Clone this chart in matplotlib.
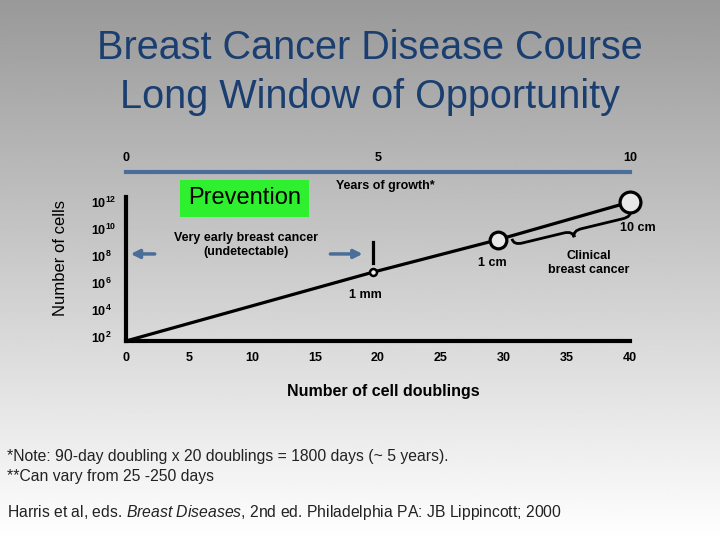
import numpy as np
import matplotlib
matplotlib.use("Agg")
import matplotlib.pyplot as plt
from matplotlib.patches import Rectangle, PathPatch
from matplotlib.path import Path

plt.rcParams['font.family'] = ['Liberation Sans', 'DejaVu Sans']
plt.rcParams['mathtext.fontset'] = 'custom'
plt.rcParams['mathtext.rm'] = 'Liberation Sans'
plt.rcParams['mathtext.bf'] = 'Liberation Sans:bold'
plt.rcParams['mathtext.it'] = 'Liberation Sans:italic'

# growth line: doublings vs log10(number of cells)
doublings = [0, 19.6, 29.5, 40]
log_cells = [1.7, 6.8, 9.2, 12.0]

# tumour size markers
size_labels = ['1 mm', '1 cm', '10 cm']
size_x = [19.6, 29.5, 40]
size_y = [6.8, 9.2, 12.0]

x_ticks = [0, 5, 10, 15, 20, 25, 30, 35, 40]
y_ticks = [2, 4, 6, 8, 10, 12]
year_ticks = [0, 5, 10]

title_color = '#1b3e70'
arrow_color = '#4a6e98'
green = '#2ef02e'

fig = plt.figure(figsize=(7.2, 5.4), dpi=100)

# gray gradient background
bg = fig.add_axes([0, 0, 1, 1], zorder=-10)
grad = np.linspace(0.60, 1.0, 256).reshape(-1, 1)
bg.imshow(grad, cmap='gray', vmin=0, vmax=1, aspect='auto',
          extent=[0, 1, 0, 1], origin='upper')
bg.axis('off')

fig.text(0.514, 1 - 48 / 540, 'Breast Cancer Disease Course', ha='center', va='center',
         fontsize=28.5, color=title_color)
fig.text(0.514, 1 - 97 / 540, 'Long Window of Opportunity', ha='center', va='center',
         fontsize=28.5, color=title_color)

ax = fig.add_axes([126 / 720, 1 - 341 / 540, 504 / 720, 144 / 540])
ax.patch.set_alpha(0)
ax.set_xlim(0, 40)
ax.set_ylim(1.70, 12.37)

for s in ['top', 'right']:
    ax.spines[s].set_visible(False)
for s in ['left', 'bottom']:
    ax.spines[s].set_linewidth(3)
    ax.spines[s].set_color('black')

ax.set_xticks(x_ticks)
ax.set_xticklabels([str(t) for t in x_ticks], fontsize=9, fontweight='bold')
ax.tick_params(axis='x', length=0, pad=8)
ax.set_yticks(y_ticks)
ax.set_yticklabels([r'$\mathbf{10^{%d}}$' % t for t in y_ticks], fontsize=9, ha='left')
ax.tick_params(axis='y', length=0, pad=25)

ax.set_xlabel('Number of cell doublings', fontsize=11.5, fontweight='bold')
ax.xaxis.set_label_coords(0.51, -0.30)
ax.set_ylabel('Number of cells', fontsize=12)
ax.yaxis.set_label_coords(-0.115, 0.576)

# years of growth axis on top
top = ax.secondary_xaxis(1.174, functions=(lambda d: d / 4, lambda y: y * 4))
top.set_xticks(year_ticks)
top.set_xticklabels([str(t) for t in year_ticks], fontsize=9, fontweight='bold')
top.tick_params(length=0, pad=6)
top.spines['top'].set_color(arrow_color)
top.spines['top'].set_linewidth(3)
ax.text(20.6, 13.19, 'Years of growth*', ha='center', va='center',
        fontsize=9, fontweight='bold', clip_on=False)

# growth line and size markers
ax.plot(doublings, log_cells, color='black', lw=2.3, clip_on=False, zorder=3,
        solid_capstyle='butt')
ax.plot(size_x[0], size_y[0], 'o', ms=5, mfc='#f0f0f0', mec='black', mew=1.8,
        clip_on=False, zorder=4)
ax.plot(size_x[1], size_y[1], 'o', ms=12, mfc='#e8e8e8', mec='black', mew=2.3,
        clip_on=False, zorder=4)
ax.plot(size_x[2], size_y[2], 'o', ms=15, mfc='#e8e8e8', mec='black', mew=2.3,
        clip_on=False, zorder=4)

label_pos = [(19.0, 5.11), (29.1, 7.48), (40.6, 10.07)]
for lab, (lx, ly) in zip(size_labels, label_pos):
    ax.text(lx, ly, lab, ha='center', va='center', fontsize=9,
            fontweight='bold', clip_on=False)

ax.text(36.7, 7.48, 'Clinical\nbreast cancer', ha='center', va='center',
        fontsize=9, fontweight='bold', linespacing=1.2, clip_on=False)

# 1 mm detection bar
ax.plot([19.6, 19.6], [7.48, 9.04], color='black', lw=2.3, clip_on=False)

# prevention box
ax.add_patch(Rectangle((4.3, 10.89), 10.24, 2.74, facecolor=green,
                       edgecolor='none', clip_on=False, zorder=2))
ax.text(9.42, 12.26, 'Prevention', ha='center', va='center', fontsize=17,
        clip_on=False, zorder=3)

ax.text(9.5, 8.8, 'Very early breast cancer\n(undetectable)', ha='center',
        va='center', fontsize=9, fontweight='bold', linespacing=1.2)
ax.annotate('', xy=(0.15, 8.15), xytext=(2.5, 8.15),
            arrowprops=dict(arrowstyle='-|>,head_length=0.5,head_width=0.25',
                            color=arrow_color, lw=2.5))
ax.annotate('', xy=(19.0, 8.15), xytext=(16.0, 8.15),
            arrowprops=dict(arrowstyle='-|>,head_length=0.5,head_width=0.25',
                            color=arrow_color, lw=2.5))

# curly brace under the clinical segment, built in pixel space then mapped back
p1 = ax.transData.transform((size_x[1], size_y[1]))
p2 = ax.transData.transform((size_x[2], size_y[2]))
d = (p2 - p1) / np.linalg.norm(p2 - p1)
n = np.array([d[1], -d[0]])  # points below the line
start = p1 + d * 14 + n * 3
end = p2 - d * 2 + n * 8
L = np.linalg.norm(end - start)
h, w = 13.0, 9.0
local = [(0, 0), (0, h / 2), (w, h / 2), (L / 2 - w, h / 2), (L / 2, h / 2), (L / 2, h),
         (L / 2, h / 2), (L / 2 + w, h / 2), (L - w, h / 2), (L, h / 2), (L, 0)]
codes = [Path.MOVETO, Path.CURVE3, Path.CURVE3, Path.LINETO, Path.CURVE3, Path.CURVE3,
         Path.CURVE3, Path.CURVE3, Path.LINETO, Path.CURVE3, Path.CURVE3]
ed = (end - start) / L
en = np.array([ed[1], -ed[0]])
pts = np.array([start + ed * u + en * v for u, v in local])
pts = ax.transData.inverted().transform(pts)
ax.add_patch(PathPatch(Path(pts, codes), facecolor='none', edgecolor='black',
                       lw=2.0, clip_on=False, zorder=3))

# footnotes
fig.text(7 / 720, 1 - 457 / 540, '*Note: 90-day doubling x 20 doublings = 1800 days (~ 5 years).',
         fontsize=11.3, color='#222222', va='center')
fig.text(7 / 720, 1 - 476 / 540, '**Can vary from 25 -250 days',
         fontsize=11.3, color='#222222', va='center')
fig.text(7 / 720, 1 - 512 / 540,
         r'Harris et al, eds. $\mathit{Breast\ Diseases}$, 2nd ed. Philadelphia PA: JB Lippincott; 2000',
         fontsize=11.3, color='#222222', va='center')

fig.savefig('out.png', dpi=100)
